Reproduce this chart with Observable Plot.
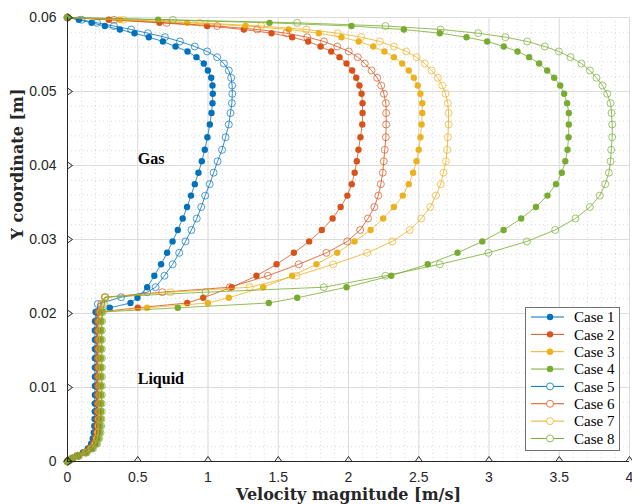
<!DOCTYPE html>
<html><head><meta charset="utf-8">
<script src="https://cdn.jsdelivr.net/npm/d3@7"></script>
<script src="https://cdn.jsdelivr.net/npm/@observablehq/plot@0.6"></script>
<style>
body{margin:0;background:#fff}
#wrap{position:relative;width:632px;height:504px;background:#fff}
</style>
</head><body><div id="wrap"></div>
<script>
// ---- categories / labels ----
const caseNames = ["Case 1","Case 2","Case 3","Case 4","Case 5","Case 6","Case 7","Case 8"];
const caseColors = ["#0072BD","#D95319","#EDB120","#77AC30","#0072BD","#D95319","#EDB120","#77AC30"];
const caseFilled = [true,true,true,true,false,false,false,false];
const xTicks = [0,0.5,1,1.5,2,2.5,3,3.5,4];
const xTickLabels = ["0","0.5","1","1.5","2","2.5","3","3.5","4"];
const yTicks = [0,0.01,0.02,0.03,0.04,0.05,0.06];
const yTickLabels = ["0","0.01","0.02","0.03","0.04","0.05","0.06"];
const annotationText = ["Gas","Liquid"];
const annotationX = [0.5,0.5];
const annotationY = [0.0409,0.0111];

// ---- y coordinates of the sampled points (top of gas layer -> bottom wall) ----
const yGasFilled = [0.0600,0.05969,0.05928,0.05885,0.05838,0.05788,0.05734,0.05676,0.05608,0.05541,0.05464,0.05378,0.05284,0.05185,0.05081,0.04969,0.04842,0.04709,0.04554,0.04382,0.04212,0.04057,0.03903,0.03748,0.03593,0.03439,0.03284,0.03129,0.02974,0.02820,0.02665,0.02510,0.02355,0.02212,0.02142,0.02077];
const yGasOpen = [0.0600,0.05969,0.05928,0.05885,0.05838,0.05788,0.05734,0.05676,0.05608,0.05541,0.05464,0.05378,0.05284,0.05185,0.05081,0.04969,0.04842,0.04709,0.04554,0.04382,0.04212,0.04057,0.03903,0.03748,0.03593,0.03439,0.03284,0.03129,0.02974,0.02820,0.02665,0.02510,0.02355,0.02288,0.02220,0.02128];
const yLiquid = [0.02020,0.01896,0.01770,0.01646,0.01520,0.01396,0.01270,0.01146,0.01020,0.00899,0.00784,0.00676,0.00574,0.00480,0.00392,0.00311,0.00239,0.00176,0.00122,0.00077,0.00041,0.00014,0];

// ---- velocity magnitude values ----
const case1Gas = [0,0.081,0.171,0.266,0.373,0.477,0.579,0.679,0.769,0.854,0.918,0.970,0.999,1.023,1.032,1.034,1.032,1.025,1.013,0.996,0.977,0.956,0.932,0.906,0.879,0.851,0.820,0.785,0.748,0.709,0.666,0.618,0.567,0.498,0.448,0.301];
const case1Liq = [0.200,0.196,0.195,0.195,0.195,0.195,0.195,0.195,0.195,0.195,0.194,0.194,0.193,0.191,0.187,0.180,0.168,0.145,0.110,0.065,0.030,0.008,0];
const case2Gas = [0,0.294,0.655,0.994,1.255,1.452,1.599,1.713,1.801,1.877,1.936,1.986,2.026,2.055,2.078,2.093,2.100,2.100,2.098,2.085,2.071,2.059,2.044,2.023,1.992,1.944,1.887,1.810,1.720,1.611,1.488,1.345,1.169,0.966,0.852,0.500];
const case2Liq = [0.218,0.214,0.213,0.213,0.213,0.213,0.213,0.213,0.213,0.213,0.212,0.212,0.211,0.209,0.204,0.197,0.183,0.158,0.120,0.071,0.033,0.009,0];
const case3Gas = [0,0.372,0.852,1.267,1.575,1.789,1.950,2.073,2.176,2.256,2.323,2.382,2.429,2.465,2.493,2.512,2.525,2.525,2.520,2.512,2.500,2.484,2.460,2.429,2.387,2.323,2.247,2.157,2.043,1.920,1.772,1.599,1.393,1.148,0.999,0.567];
const case3Liq = [0.228,0.223,0.222,0.222,0.222,0.222,0.222,0.222,0.222,0.222,0.221,0.221,0.220,0.217,0.213,0.205,0.191,0.165,0.125,0.074,0.034,0.009,0];
const case4Gas = [0,0.645,1.438,2.021,2.394,2.650,2.840,2.987,3.105,3.203,3.286,3.357,3.414,3.464,3.507,3.535,3.556,3.568,3.568,3.566,3.559,3.543,3.518,3.477,3.416,3.334,3.229,3.104,2.952,2.776,2.564,2.304,1.986,1.635,1.433,0.785];
const case4Liq = [0.246,0.241,0.240,0.240,0.240,0.240,0.240,0.240,0.240,0.240,0.239,0.239,0.237,0.235,0.230,0.221,0.207,0.178,0.135,0.080,0.037,0.010,0];
const case5Gas = [0,0.100,0.211,0.330,0.453,0.572,0.693,0.800,0.906,0.994,1.065,1.113,1.148,1.165,1.172,1.173,1.170,1.160,1.148,1.125,1.100,1.068,1.040,1.012,0.980,0.952,0.920,0.882,0.840,0.795,0.748,0.690,0.627,0.567,0.382,0.216];
const case5Liq = [0.210,0.206,0.205,0.205,0.205,0.205,0.205,0.205,0.205,0.205,0.205,0.206,0.207,0.208,0.207,0.203,0.192,0.170,0.130,0.078,0.036,0.010,0];
const case6Gas = [0,0.330,0.705,1.065,1.350,1.557,1.706,1.825,1.920,2.002,2.066,2.116,2.164,2.204,2.233,2.252,2.266,2.268,2.268,2.266,2.258,2.251,2.244,2.230,2.212,2.184,2.139,2.083,1.991,1.843,1.646,1.426,1.155,0.674,0.265,0.240];
const case6Liq = [0.222,0.216,0.215,0.215,0.215,0.215,0.215,0.215,0.215,0.215,0.214,0.213,0.212,0.210,0.206,0.198,0.185,0.160,0.121,0.072,0.033,0.009,0];
const case7Gas = [0,0.400,0.942,1.379,1.699,1.924,2.090,2.223,2.323,2.411,2.484,2.543,2.591,2.636,2.667,2.690,2.707,2.712,2.712,2.707,2.702,2.693,2.676,2.656,2.622,2.582,2.518,2.436,2.311,2.133,1.891,1.630,1.297,0.733,0.270,0.250];
const case7Liq = [0.235,0.229,0.228,0.228,0.228,0.228,0.228,0.228,0.228,0.228,0.227,0.227,0.226,0.223,0.219,0.211,0.197,0.170,0.129,0.076,0.035,0.009,0];
const case8Gas = [0,0.750,1.635,2.263,2.655,2.923,3.117,3.272,3.397,3.497,3.580,3.658,3.718,3.765,3.808,3.841,3.865,3.872,3.877,3.877,3.870,3.865,3.853,3.827,3.789,3.718,3.615,3.471,3.270,2.996,2.650,2.263,1.824,0.982,0.270,0.260];
const case8Liq = [0.252,0.246,0.245,0.245,0.245,0.245,0.245,0.245,0.245,0.245,0.244,0.244,0.242,0.240,0.235,0.226,0.211,0.182,0.138,0.082,0.038,0.010,0];

const gasByCase = [case1Gas,case2Gas,case3Gas,case4Gas,case5Gas,case6Gas,case7Gas,case8Gas];
const liqByCase = [case1Liq,case2Liq,case3Liq,case4Liq,case5Liq,case6Liq,case7Liq,case8Liq];

// table built from the arrays
const series = caseNames.map((name, i) => {
  const ys = (caseFilled[i] ? yGasFilled : yGasOpen).concat(yLiquid);
  const xs = gasByCase[i].concat(liqByCase[i]);
  return xs.map((v, j) => ({name, v, y: ys[j]}));
});

const serif = "'Liberation Serif', 'DejaVu Serif', serif";
const titleSerif = "'DejaVu Serif', serif";
const sans = "'Liberation Sans', Arial, sans-serif";

const curveMarks = [];
series.forEach((rows, i) => {
  curveMarks.push(Plot.line(rows, {x: "v", y: "y", stroke: caseColors[i], strokeWidth: 0.8, curve: "linear"}));
  if (caseFilled[i]) {
    curveMarks.push(Plot.dot(rows, {x: "v", y: "y", r: 3.2, fill: caseColors[i], stroke: "none"}));
  } else {
    curveMarks.push(Plot.dot(rows, {x: "v", y: "y", r: 3.5, fill: "none", stroke: caseColors[i], strokeWidth: 0.7}));
  }
});

const chart = Plot.plot({
  width: 632, height: 504,
  marginLeft: 67, marginRight: 3, marginTop: 17, marginBottom: 43,
  style: {background: "#fff", overflow: "visible"},
  x: {domain: [0, 4], axis: null},
  y: {domain: [0, 0.06], axis: null},
  marks: [
    Plot.gridX({ticks: 40, stroke: "#c8c8c8", strokeOpacity: 1, strokeWidth: 0.7, strokeDasharray: "1,3"}),
    Plot.gridY({ticks: 30, stroke: "#c8c8c8", strokeOpacity: 1, strokeWidth: 0.7, strokeDasharray: "1,3"}),
    Plot.gridX(xTicks, {stroke: "#dcdcdc", strokeOpacity: 1, strokeWidth: 1}),
    Plot.gridY(yTicks, {stroke: "#dcdcdc", strokeOpacity: 1, strokeWidth: 1}),
    ...curveMarks,
    Plot.ruleY([0], {stroke: "#262626", strokeWidth: 1}),
    Plot.ruleX([0], {stroke: "#262626", strokeWidth: 1}),
    Plot.vector(xTicks, {x: d => d, y: 0, length: 5, rotate: 0, anchor: "start", stroke: "#262626", strokeWidth: 1, shape: "spike", fill: "none"}),
    Plot.vector(yTicks, {x: 0, y: d => d, length: 5, rotate: 90, anchor: "start", stroke: "#262626", strokeWidth: 1, shape: "spike", fill: "none"}),
    Plot.text(xTicks, {x: d => d, y: 0, text: (d, i) => xTickLabels[i], dy: 16, fontSize: 14, fontFamily: sans, fill: "#262626", textAnchor: "middle", lineAnchor: "middle"}),
    Plot.text(yTicks, {x: 0, y: d => d, text: (d, i) => yTickLabels[i], dx: -11, fontSize: 14, fontFamily: sans, fill: "#262626", textAnchor: "end", lineAnchor: "middle"}),
    Plot.text(annotationText, {x: (d, i) => annotationX[i], y: (d, i) => annotationY[i], text: d => d, textAnchor: "start", lineAnchor: "middle", fontSize: 16, fontWeight: "bold", fontFamily: serif, fill: "#000"}),
    Plot.text(["Velocity magnitude [m/s]"], {frameAnchor: "bottom", dy: 33, text: d => d, fontSize: 16, fontWeight: "bold", fontFamily: titleSerif, fill: "#262626", lineAnchor: "middle"}),
    Plot.text(["Y coordinate [m]"], {frameAnchor: "left", dx: -50, rotate: -90, text: d => d, fontSize: 16, fontWeight: "bold", fontFamily: titleSerif, fill: "#262626", lineAnchor: "middle"})
  ]
});
const wrap = document.getElementById("wrap");
wrap.appendChild(chart);
chart.style.position = "absolute"; chart.style.left = "0px"; chart.style.top = "0px";

// legend overlay
const lg = d3.select(wrap).append("svg")
  .style("position", "absolute").style("left", "525px").style("top", "307px")
  .attr("width", 96).attr("height", 145);
lg.append("rect").attr("x", 0.5).attr("y", 0.5).attr("width", 94).attr("height", 143)
  .attr("fill", "#fff").attr("stroke", "#707070").attr("stroke-width", 1);
caseNames.forEach((name, i) => {
  const cy = 10 + i * 17.35;
  lg.append("line").attr("x1", 6).attr("x2", 39).attr("y1", cy).attr("y2", cy)
    .attr("stroke", caseColors[i]).attr("stroke-width", 1);
  const c = lg.append("circle").attr("cx", 25).attr("cy", cy);
  if (caseFilled[i]) c.attr("r", 3.2).attr("fill", caseColors[i]);
  else c.attr("r", 3.5).attr("fill", "#fff").attr("stroke", caseColors[i]).attr("stroke-width", 0.8);
  lg.append("text").attr("x", 49).attr("y", cy).attr("dy", "0.35em")
    .attr("font-family", serif).attr("font-size", 15).attr("fill", "#000").text(name);
});
</script>
</body></html>
